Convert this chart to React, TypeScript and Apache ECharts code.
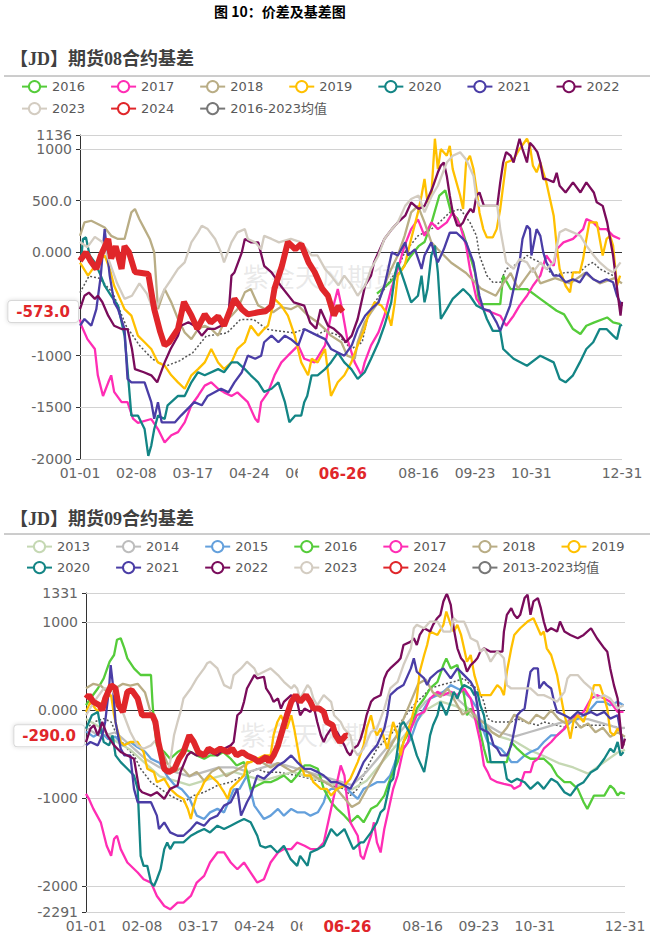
import React, { useEffect, useRef } from 'react';
import * as echarts from 'echarts';

// ---------- Panel 1: 08 contract basis, [day of year, value] ----------
const P1_2016 = [[200,-400],[208,-300],[215,-200],[222,-50],[228,60],[232,100],[237,300],[242,550],[246,600],[250,380],[254,330],[258,190],[264,-97],[266,-194],[269,-500],[283,-500],[285,-226],[290,-355],[301,-355],[310,-450],[321,-565],[326,-600],[332,-742],[337,-790],[341,-710],[346,-680],[355,-630],[359,-678],[364,-694]];
const P1_2017 = [[0,-650],[1,-710],[5,-840],[10,-935],[12,-1190],[15.5,-1390],[19,-1260],[21,-1190],[23,-1350],[28,-1450],[32,-1450],[35.7,-1610],[39,-1650],[48,-1613],[52.5,-1710],[57,-1840],[61.5,-1770],[66,-1740],[70.5,-1645],[75,-1480],[79.5,-1390],[84,-1290],[88.4,-1258],[93,-1320],[97,-1355],[102,-1390],[106,-1355],[113,-1450],[118,-1610],[120,-1645],[122,-1450],[126.6,-1355],[131,-1190],[135.6,-1065],[140,-1000],[147,-900],[151,-1030],[158,-1065],[165,-900],[169,-613],[173.6,-355],[176,-515],[180,-840],[185,-1065],[189.5,-1190],[191.7,-1065],[196,-900],[201,-775],[205,-613],[209.6,-355],[214,-160],[218.6,65],[223,225],[227.6,320],[232,160],[236.6,290],[241,225],[247,290],[251,387],[256,258],[260,65],[262.6,-160],[267,-450],[271.6,-550],[283,-613],[287,-710],[292,-613],[296,-515],[301,-420],[305,-323],[310,-225],[314,-30],[319,-130],[321,30],[325.6,97],[332,130],[338.8,225],[341,322],[345.6,290],[350,225],[354.6,225],[359,160],[363.7,130]];
const P1_2018 = [[0,160],[3,290],[7.6,306],[12,275],[16.6,240],[21,160],[25.6,130],[30,130],[34.6,387],[37,420],[40,320],[43.5,225],[47,130],[50,0],[52.5,-550],[57,-355],[61.5,-484],[66,-645],[70.5,-775],[75,-840],[79.5,-742],[84,-710],[88.4,-742],[93,-806],[97,-677],[102,-613],[106,-550],[111,-387],[115,-355],[120,-515],[125,-550],[130,-580],[135,-530],[142,-550],[147,-515],[153.6,-613],[160,-677],[165,-742],[169,-806],[176,-870],[180,-1000],[185,-1030],[187,-870],[191.7,-677],[196,-580],[201,-480],[205,-320],[209.6,-160],[214,-30],[218.6,160],[223,387],[227.6,450],[232,290],[236.6,97],[241,30],[250,-100],[260,-200],[270,-350],[280,-420],[285,-300],[290,-200],[295,-350],[300,-250],[305,-150],[310,-300],[320,-250],[330,-300],[340,-200],[350,-300],[360,-250],[365,-300]];
const P1_2019 = [[0,-100],[5.4,-225],[10,-130],[16.6,-30],[20,-160],[23,-323],[28,-484],[30,-550],[34.6,-613],[39,-806],[43.5,-870],[48,-935],[52.5,-1065],[57,-1097],[61.5,-1190],[66,-1258],[70.5,-1320],[75,-1190],[79.5,-1130],[84,-1065],[88.4,-935],[93,-1065],[97,-1130],[102,-1065],[106,-935],[111,-870],[115,-710],[120,-806],[124,-742],[126.6,-710],[131,-450],[135.6,-515],[140,-613],[144.6,-806],[149,-1065],[153.6,-1190],[156,-1030],[160,-1065],[165,-935],[167,-1160],[169,-1390],[173.6,-1258],[178,-1190],[182.7,-1065],[187,-900],[191.7,-742],[194,-613],[198.4,-484],[203,-515],[207.6,-613],[209.6,-710],[212,-484],[214,-225],[218.6,-130],[223,130],[227.6,387],[230,550],[232,710],[234,484],[236.6,550],[239,1100],[241,806],[243,1000],[247,935],[249,1030],[251,806],[256,550],[258,420],[260,870],[262.6,935],[265,806],[267,610],[269,387],[271.6,225],[274,145],[278,145],[280.6,225],[283,420],[285,645],[287,870],[292,900],[296,1000],[301,1100],[303,1030],[305,840],[307.5,775],[310,870],[314,680],[319,355],[321,65],[323,-160],[327,-323],[330,-387],[332,-194],[336.6,-194],[338.8,-65],[341,130],[343,290],[348,290],[350,130],[352,-30],[354.6,130],[357,160],[359,65],[361.6,-323],[363.7,-225]];
const P1_2020 = [[0,-60],[1,-30],[2,130],[4,145],[6.5,-30],[10,-97],[12,-160],[14,-225],[16.6,-323],[21,-420],[25.6,-515],[30,-806],[32,-1130],[34.6,-1580],[39,-1580],[43.5,-1710],[46,-1970],[48,-1870],[50,-1710],[52.5,-1580],[57,-1613],[59,-1480],[66,-1390],[70.5,-1390],[75,-1258],[79.5,-1160],[84,-1190],[93,-1130],[97,-1160],[102,-1065],[106,-1065],[111,-1130],[115,-1190],[120,-1258],[124,-1350],[129,-1320],[133.6,-1258],[138,-1450],[141,-1645],[145,-1580],[149,-1580],[151,-1450],[153,-1390],[156,-1190],[160,-1190],[165,-1130],[169,-1065],[173.6,-970],[178,-1065],[182.7,-1130],[187,-1225],[191.7,-1160],[196,-1030],[201,-870],[205,-710],[209.6,-484],[212,-225],[214,-97],[218.6,-290],[223,-484],[227.6,-420],[230,-225],[232,-484],[234,-355],[236.6,-30],[239,65],[241,-194],[243,-645],[247,-550],[251,-450],[258,-355],[262.6,-420],[267,-515],[271.6,-550],[274,-645],[278,-760],[283,-760],[285,-935],[292,-1030],[301,-1097],[310,-1000],[319,-1065],[323,-1225],[327,-1258],[332,-1190],[336.6,-1065],[341,-935],[345.6,-870],[350,-742],[354.6,-742],[359,-806],[361.6,-840],[363.7,-710],[365,-700]];
const P1_2021 = [[0,-710],[3,-645],[7.6,-710],[11,-550],[14,-225],[16.6,225],[20,-225],[23,-484],[25.6,-550],[30,-742],[32,-1225],[34.6,-1258],[43.5,-1258],[48,-1450],[50,-1610],[52.5,-1450],[55,-1645],[64,-1645],[68,-1580],[77,-1450],[82,-1480],[86,-1390],[95,-1320],[100,-1355],[104,-1258],[109,-1160],[113,-1000],[118,-1030],[122,-1000],[124,-870],[129,-806],[133.6,-870],[138,-806],[142,-840],[147,-900],[151,-742],[160,-806],[165,-840],[169,-935],[178,-1000],[183,-900],[187,-742],[192,-613],[196,-550],[201,-484],[205,-323],[207.6,-160],[210,0],[214,-30],[219,97],[221,-30],[225.6,30],[230,-160],[232,-30],[236.6,97],[239,-30],[241,-97],[245,30],[249,190],[253.6,190],[258,130],[260,97],[265,-97],[267,-260],[269,-420],[271.6,-550],[276,-565],[280.6,-680],[283,-760],[287,-613],[289.6,-515],[292,-355],[294,-225],[296,-97],[298,130],[301,258],[303,225],[304,-30],[307.5,225],[310,160],[312,0],[314,-97],[319,-225],[323,-225],[327,-290],[332,-260],[336.6,-290],[341,-194],[345.6,-260],[350,-290],[354.6,-260],[359,-290],[361.6,-420],[363.7,-484],[365,-520]];
const P1_2022 = [[0,-550],[3,-420],[6,-390],[10,-450],[12,-420],[15,-480],[19,-613],[23,-710],[28,-742],[32,-742],[35,-935],[37,-1130],[43,-1160],[48,-1190],[52,-1258],[57,-1065],[61,-935],[66,-806],[68,-710],[73,-677],[77,-710],[82,-806],[86,-740],[91,-740],[95,-710],[100,-613],[102,-225],[104,-194],[109,0],[111,130],[115,97],[120,97],[124,-130],[129,-194],[135,-320],[144,-484],[151,-515],[155,-680],[159,-740],[162,-550],[167,-710],[171,-740],[176,-806],[179,-870],[183,-806],[187,-645],[192,-320],[196,-225],[198,-97],[201,0],[205,130],[210,225],[214,290],[219,355],[223,484],[228,420],[232,450],[237,610],[241,775],[243,840],[245,870],[247,740],[249,550],[251,390],[254,258],[256,258],[258,290],[260,355],[263,420],[265,387],[267,550],[269,580],[272,450],[276,450],[281,450],[283,677],[285,870],[287,970],[290,935],[292,870],[296,1100],[298,1000],[301,870],[303,1060],[305,1030],[308,970],[310,870],[312,710],[314,710],[319,680],[321,770],[323,645],[327,580],[332,677],[337,580],[341,677],[346,580],[348,484],[352,450],[355,290],[357,130],[359,-30],[362,-390],[364,-613],[365,-480]];
const P1_2023 = [[0,100],[5,50],[10,150],[15,100],[20,-100],[25,-300],[30,-450],[35,-420],[40,-300],[45,-400],[50,-580],[57,-355],[61.5,-260],[66,-160],[70.5,-97],[75,97],[79.5,194],[82,258],[86,225],[91,130],[95,0],[97,-97],[102,97],[106,194],[111,225],[113,130],[118,97],[122,30],[124,160],[129,130],[134,97],[142,130],[149,97],[156,-30],[160,-30],[165,-160],[169,-225],[174,-320],[178,-225],[183,-320],[187,-420],[192,-320],[196,-160],[201,-30],[205,130],[210,225],[214,290],[219,450],[223,516],[228,550],[232,387],[237,550],[241,645],[247,870],[251,935],[256,968],[260,900],[265,740],[267,516],[269,450],[281,450],[283,225],[285,65],[287,-97],[292,-160],[296,-65],[301,-97],[305,-194],[310,-97],[314,-160],[319,-97],[323,194],[327,225],[332,194],[337,160],[341,65],[346,-30],[350,-97],[355,-160],[359,-194],[364,-97]];
const P1_2024 = [[0,-80],[4,0],[7,-80],[11,-160],[14,-30],[19,130],[21,-60],[24,60],[28,-160],[30,60],[33,0],[37,-190],[46,-210],[50,-550],[54,-770],[57,-900],[60,-870],[66,-740],[70,-480],[75,-610],[79,-740],[84,-600],[88,-680],[93,-620],[97,-710],[104,-450],[109,-550],[113,-600],[120,-580],[125,-570],[129,-520],[131,-350],[136,-130],[140,100],[145,30],[149,80],[154,-100],[158,-190],[163,-350],[167,-420],[171,-610],[174,-520],[177,-573]];
const P1_AVG = [[0,-390],[6,-230],[13,-250],[22,-390],[31,-710],[40,-900],[49,-1035],[58,-1100],[67,-1050],[76,-970],[85,-810],[99,-780],[108,-650],[117,-650],[126,-745],[144,-780],[151,-740],[159,-800],[165,-760],[173.6,-800],[182.7,-935],[190,-870],[194,-613],[198.4,-484],[205,-355],[214,-160],[218.6,0],[227.6,160],[236.6,225],[242,290],[249,387],[256,420],[262.6,290],[267,160],[269,-30],[274,-225],[278,-290],[283,-290],[287,-160],[292,-130],[296,-97],[301,-30],[305,-65],[310,-97],[319,-225],[327,-194],[336.6,-194],[341,-130],[345.6,-97],[350,-160],[359,-225],[363.7,-290]];

// ---------- Panel 2: 09 contract basis ----------
const P2_2013 = [[0,-100],[10,-200],[20,-350],[30,-450],[40,-600],[50,-750],[60,-800],[70,-850],[80,-800],[90,-750],[100,-700],[110,-750],[120,-800],[130,-750],[140,-700],[150,-750],[160,-800],[170,-850],[180,-900],[190,-800],[200,-600],[210,-400],[220,-200],[230,0],[240,100],[250,50],[260,-50],[270,-200],[280,-300],[290,-350],[300,-450],[310,-520],[320,-600],[330,-650],[340,-720],[350,-600],[360,-480],[365,-450]];
const P2_2014 = [[0,-200],[10,-300],[20,-250],[30,-400],[40,-550],[50,-650],[60,-700],[70,-750],[80,-700],[90,-650],[100,-650],[110,-700],[120,-650],[130,-600],[140,-650],[150,-700],[160,-750],[170,-800],[180,-850],[190,-700],[200,-500],[210,-300],[220,-100],[230,100],[240,200],[250,150],[260,0],[270,-150],[280,-250],[290,-300],[300,-250],[310,-200],[320,-150],[330,-100],[340,-100],[350,-150],[360,-200],[365,-200]];
const P2_2015 = [[0,-240],[5,-300],[10,-250],[15,-330],[20,-300],[25,-400],[30,-360],[35,-420],[40,-470],[44,-550],[50,-600],[55,-750],[60,-850],[65,-900],[70,-1000],[75,-1197],[80,-1235],[84,-1160],[89,-1120],[93.5,-1160],[100,-900],[104,-893],[109,-741],[114,-1083],[120.5,-1235],[125,-1197],[130,-1121],[134,-1197],[139,-1121],[143,-1159],[148,-1159],[152,-1197],[157,-1159],[161,-1045],[163,-931],[166,-893],[170,-893],[175,-855],[179,-931],[184,-1007],[188,-893],[193,-855],[197,-817],[202,-817],[206,-741],[211,-513],[215,-437],[220,-323],[224,-133],[229,19],[233,133],[238,171],[242,209],[247,285],[251.5,247],[256,209],[260.5,133],[265,19],[267,-133],[269.5,-247],[272,-361],[276,-399],[281,-437],[285,-513],[288,-589],[292,-589],[297,-513],[301,-475],[306,-437],[310,-361],[315,-285],[319,-285],[324,-209],[328,-133],[333,-95],[337,-57],[342,19],[346,95],[351,95],[355,57],[360,95],[364,57]];
const P2_2016 = [[0,57],[3,133],[8,247],[12,361],[16,551],[19,627],[21,800],[23.5,817],[26,703],[28,589],[32.5,475],[37,400],[41.5,400],[44,400],[45,95],[46,-133],[48,-400],[53,-475],[57,-551],[62,-475],[66,-437],[71,-475],[75,-513],[80,-551],[84,-513],[89,-513],[93,-475],[98,-551],[102,-627],[107,-589],[109,-700],[111.5,-893],[116,-855],[120.5,-817],[125,-817],[130,-779],[134,-741],[139,-817],[143,-741],[148,-627],[152,-627],[157,-665],[161,-893],[166,-1045],[170,-1120],[175,-1197],[179,-1273],[184,-1197],[188,-1273],[193,-1120],[197,-1083],[202,-969],[206,-779],[211,-589],[215,-361],[220,-209],[224,19],[229,133],[233,247],[238,323],[242,513],[244,589],[247,475],[251.5,513],[256,171],[258,-57],[260.5,19],[265,-133],[267,-247],[269.5,-437],[272,-589],[276,-589],[281,-589],[285,-589],[288,-361],[292,-437],[297,-513],[301,-551],[306,-551],[310,-551],[315,-627],[319,-741],[324,-817],[328,-817],[333,-893],[337,-1045],[339.5,-1120],[344,-969],[351,-969],[355,-855],[357.5,-893],[360,-969],[362,-931],[365,-950]];
const P2_2017 = [[0,-950],[2,-1007],[5,-1120],[10,-1273],[14,-1539],[17,-1653],[19,-1463],[21,-1425],[23.5,-1577],[28,-1729],[35,-1843],[39,-1919],[44,-1957],[48,-2109],[53,-2223],[57,-2261],[62,-2185],[66,-2185],[71,-2109],[75,-1957],[80,-1881],[84,-1729],[89,-1615],[93.5,-1615],[98,-1729],[102.5,-1805],[107,-1729],[111.5,-1843],[116,-1957],[120.5,-1919],[125,-1729],[130,-1615],[134,-1577],[139,-1577],[143,-1501],[148,-1539],[152,-1577],[157,-1577],[161,-1501],[166,-1120],[168,-969],[170,-817],[172.5,-627],[175,-741],[177,-1045],[179,-1273],[184,-1425],[186,-1653],[188,-1691],[190,-1577],[193,-1425],[195,-1273],[197,-1501],[199.5,-1615],[202,-1349],[204,-1197],[206,-1045],[208,-893],[211,-741],[213,-589],[215,-437],[218,-361],[220,-209],[224,-57],[229,-19],[233,133],[238,209],[242,171],[247,209],[251.5,171],[256,247],[260.5,133],[265,-209],[267,-361],[269.5,-627],[272,-703],[274,-779],[278.5,-817],[283,-836],[288,-855],[290,-893],[294,-855],[297,-703],[301,-703],[303,-589],[306,-551],[310,-437],[315,-361],[319,-285],[324,-209],[328,-95],[333,-57],[337,-19],[342,133],[346,171],[351,133],[355,95],[360,-19],[364,-19]];
const P2_2018 = [[0,250],[5,300],[10,280],[15,200],[20,250],[25,300],[30,280],[35,300],[40,200],[45,-100],[50,-400],[55,-600],[60,-700],[65,-650],[70,-750],[75,-700],[80,-800],[85,-700],[90,-650],[95,-750],[100,-700],[105,-650],[110,-600],[115,-550],[120,-600],[125,-650],[130,-600],[135,-650],[140,-700],[145,-650],[150,-700],[155,-750],[160,-800],[165,-850],[170,-900],[175,-1000],[180,-1100],[185,-1050],[190,-900],[195,-750],[200,-600],[205,-450],[210,-300],[215,-100],[220,100],[225,300],[230,350],[235,200],[240,150],[245,250],[250,100],[255,-50],[260,0],[265,-100],[270,-150],[275,-250],[280,-300],[285,-200],[290,-50],[295,-100],[300,-150],[305,-50],[310,-100],[315,0],[320,-100],[325,-150],[330,-100],[335,-200],[340,-150],[345,-250],[350,-200],[355,-300],[360,-250],[365,-300]];
const P2_2019 = [[0,-19],[3,95],[8,-19],[12,133],[17,171],[19,-57],[21,-209],[23.5,-361],[26,-399],[30,-361],[35,-361],[39,-475],[41.5,-665],[46,-703],[48,-817],[53,-779],[57,-893],[62,-969],[66,-1007],[69,-1121],[71,-1235],[73,-1083],[75,-969],[78,-893],[80,-817],[84,-741],[89,-817],[93.5,-931],[96,-1007],[98,-893],[102.5,-817],[107,-741],[109,-589],[111.5,-589],[116,-551],[120.5,-513],[125,-513],[127,-285],[129.6,-133],[132,-57],[134,-133],[136,-209],[139,-57],[141,-209],[143,-399],[145,-589],[148,-741],[152,-741],[154,-817],[159,-893],[163,-893],[166,-969],[170,-893],[175,-855],[179,-779],[184,-589],[188,-399],[190,-209],[193,-57],[195,-209],[197,-285],[199.5,-209],[202,-323],[204,-437],[206,-285],[208,-133],[211,-285],[213,-513],[215,-361],[220,-133],[224,133],[226,437],[229,627],[231,741],[233,893],[238,855],[242,969],[244,1121],[247,969],[249,893],[251.5,969],[254,855],[256,703],[258,551],[260.5,627],[263,399],[265,285],[267,171],[270,171],[274,171],[278.5,285],[281,247],[283,171],[285,437],[288,703],[290,855],[294,931],[299,1007],[303,1045],[306,931],[308,855],[310,893],[312,703],[315,627],[319,399],[321,209],[324,-57],[326,-171],[328,-323],[330,-133],[333,-57],[337,-133],[342,133],[344,285],[348,285],[351,133],[353,19],[355,-247],[357.5,-285],[360,-209],[362,-247],[364,-400]];
const P2_2020 = [[0,-209],[2,-133],[4,-57],[8,-19],[10,-209],[12,-361],[15.6,-399],[18,-285],[20,-513],[23.5,-589],[28,-665],[32.5,-741],[35,-893],[37,-1653],[39,-1767],[41.5,-1767],[44,-1957],[46,-1995],[48,-1919],[50.5,-1805],[53,-1577],[55,-1501],[57,-1577],[59.6,-1501],[62,-1501],[66,-1501],[71,-1425],[75,-1387],[80,-1349],[84,-1387],[89,-1311],[93.5,-1349],[98,-1311],[102.5,-1273],[107,-1235],[111.5,-1273],[116,-1425],[118,-1539],[121.5,-1560],[125,-1539],[129.6,-1615],[134,-1539],[138.6,-1691],[143,-1767],[145,-1653],[150,-1767],[152,-1615],[157,-1577],[161,-1539],[166,-1349],[170,-1425],[175,-1349],[179,-1501],[181,-1577],[186,-1501],[188,-1501],[193,-1387],[197,-1273],[199.5,-1159],[202,-1121],[204,-969],[206,-817],[208,-779],[211,-437],[213,-171],[215,-133],[217.6,-209],[220,-285],[224,-513],[226,-589],[229,-703],[231,-513],[233,-285],[235,-171],[238,-57],[240,95],[242,19],[244,-57],[247,95],[249,209],[251.5,133],[254,247],[256,285],[260.5,247],[263,171],[265,209],[267,57],[269.5,-57],[272,-323],[274,-589],[283,-589],[285,-779],[288,-817],[292,-779],[297,-817],[301,-893],[306,-817],[310,-893],[315,-779],[319,-817],[324,-931],[328,-969],[333,-855],[337,-817],[342,-703],[346,-665],[351,-551],[355,-437],[357.5,-475],[360,-361],[362,-513],[364,-475]];
const P2_2021 = [[0,-400],[3,-361],[8,-399],[11,-285],[13,-133],[15.6,247],[16.7,513],[18,323],[20,-133],[23.5,-437],[26,-513],[30,-513],[32.5,-893],[35,-1045],[44,-1045],[48,-1197],[49.4,-1349],[53,-1273],[57,-1387],[62,-1425],[66,-1425],[71,-1349],[75,-1273],[80,-1311],[84,-1235],[89,-1197],[93.5,-1083],[98,-1045],[102.5,-893],[105,-1197],[109,-1045],[111.5,-969],[116,-741],[120.5,-779],[125,-703],[130,-627],[134,-589],[139,-513],[143,-589],[148,-665],[152,-665],[157,-703],[161,-741],[166,-817],[170,-817],[175,-855],[179,-893],[184,-741],[188,-589],[193,-475],[197,-399],[202,-209],[204,-57],[206,171],[211,247],[215,285],[220,475],[222,589],[224,437],[229,361],[231,285],[233,361],[238,437],[242,475],[247,361],[251.5,475],[256,399],[260.5,323],[263,247],[265,57],[267,-209],[272,-247],[274,-285],[276,-399],[278.5,-437],[281,-513],[285,-513],[288,-399],[292,-57],[294,-19],[297,19],[299,247],[301,437],[303,475],[306,475],[307,247],[310,323],[312,285],[315,247],[317,95],[319,-19],[324,-57],[328,-95],[333,-19],[337,-57],[342,-19],[346,-57],[351,-19],[355,-95],[360,-57],[362,-247],[364,-400]];
const P2_2022 = [[0,-361],[3,-209],[5.4,-171],[8,-285],[11,-133],[14.4,-285],[19,-399],[23.5,-475],[28,-513],[32.5,-551],[36,-893],[38,-931],[44,-969],[48,-931],[53,-1007],[57,-893],[62,-855],[64,-703],[68.6,-513],[71,-475],[75,-513],[80,-513],[84,-475],[89,-513],[93.5,-437],[98,-399],[100,-361],[102.5,-57],[105,-19],[107,95],[109,247],[111.5,323],[114,399],[116,361],[120.5,380],[122,247],[125,171],[127,95],[130,133],[132,19],[134,95],[139,171],[143,95],[145,-57],[148,19],[152,-19],[154,57],[156.6,-133],[159,-285],[161,-361],[163,-285],[166,-209],[170,-247],[175,-399],[177,-475],[179,-513],[181,-437],[184,-399],[186,-323],[188,-209],[190,-57],[193,95],[195,133],[199.5,171],[202,361],[204,437],[206,475],[211,551],[213,589],[215,741],[220,779],[222,817],[224,741],[226,855],[229,931],[233,893],[235,969],[237.8,1045],[240,1083],[242,1235],[244,1311],[244.7,1311],[247,1197],[249,931],[251.5,703],[254,589],[256,551],[258,437],[260.5,513],[263,551],[265,589],[267,665],[269.5,703],[274,665],[278.5,665],[282,665],[283,893],[285,1083],[288,1159],[290,1083],[292,1045],[294,1083],[297,1273],[299,1311],[301,1083],[303,1235],[306,1273],[308,1159],[310,1007],[312,893],[315,931],[319,893],[321,1007],[324,893],[328,855],[333,817],[337,855],[342,931],[346,817],[351,703],[353,665],[355,475],[357.5,285],[360,133],[362,-209],[363,-437],[365,-323]];
const P2_2023 = [[0,-57],[5.4,95],[12,247],[17,247],[21,133],[25.7,-57],[30,-247],[34.8,-399],[39,-437],[44,-399],[48,-323],[53,-589],[55,-703],[57,-589],[59.6,-285],[62,-133],[64,-19],[66,133],[71,247],[75,361],[80,475],[82,532],[84,551],[89,475],[93.5,285],[98,247],[100,399],[105,475],[109,551],[114,475],[116,399],[120.5,437],[125,475],[130,399],[134,323],[139,247],[141,285],[143,247],[145,133],[150,285],[152,247],[154,133],[156.6,57],[161,171],[166,95],[168,-57],[172.5,-133],[174.7,-209],[179,-285],[181,-437],[184,-513],[188,-437],[193,-247],[197,-209],[202,19],[204,133],[206,247],[211,323],[215,513],[220,703],[222,931],[224,969],[229,931],[233,1007],[238,1007],[242,893],[247,893],[249,1045],[251.5,1007],[256,1007],[258,931],[260.5,817],[265,779],[267,665],[269.5,703],[272,627],[274,551],[278.5,665],[281,627],[283,589],[285,285],[288,247],[297,247],[301,247],[306,171],[310,171],[315,133],[319,95],[324,209],[326,361],[328,399],[333,399],[337,323],[342,247],[346,133],[351,171],[355,133],[360,19],[364,57]];
const P2_2024 = [[0,133],[2,171],[5,95],[9,57],[11,0],[13,133],[17,285],[20,247],[22,57],[25,-19],[28,209],[31,228],[35,133],[38,-57],[45,-57],[47,-133],[49,-361],[53,-665],[56,-703],[60,-665],[63,-551],[66,-475],[70,-285],[73,-361],[76,-475],[80,-513],[83,-437],[87,-475],[91,-437],[96,-475],[99,-437],[102,-513],[106,-475],[109,-513],[114,-551],[117,-589],[122,-532],[124,-589],[127,-513],[130,-400],[132,-285],[134,-170],[136,-57],[139,95],[142,171],[145,95],[149,171],[152,95],[154,19],[158,19],[161,-19],[163,-133],[167,-170],[169,-285],[172,-361],[176,-285],[177,-290]];
const P2_AVG = [[0,-209],[5.4,-133],[12,-95],[17,-133],[21,-285],[28,-437],[32.5,-513],[37,-665],[44,-817],[50.5,-893],[57,-969],[66,-1045],[73,-969],[80,-931],[89,-855],[98,-817],[107,-741],[116,-665],[121.5,-703],[130,-703],[143,-741],[152,-779],[161,-817],[166,-855],[175,-893],[179,-969],[184,-893],[188,-741],[190,-665],[197,-437],[206,-285],[215,-95],[220,19],[224,95],[229,171],[233,247],[240,285],[249,323],[256,361],[260.5,285],[265,247],[269.5,95],[272,-95],[276,-133],[288,-133],[292,-95],[297,-133],[306,-171],[310,-133],[319,-171],[328,-209],[337,-171],[346,-171],[355,-171],[364,-209]];

// ---------- axes / labels ----------
const X_TICKS = [0, 38, 76, 114, 152, 228, 266, 304, 365];
const CURRENT_DAY = 177;
const CURRENT_LABEL = '06-26';
const Y1_TICKS = [-2000, -1500, -1000, 0, 500, 1000, 1136];
const Y1_LABELS = ['-2000', '-1500', '-1000', '0.000', '500.0', '1000', '1136'];
const Y1_GRID = [-2000, -1500, -1000, -500, 500, 1000, 1136];
const Y1_LAST = -573;
const Y1_LAST_LABEL = '-573.0';
const Y2_TICKS = [-2291, -2000, -1000, 0, 1000, 1331];
const Y2_LABELS = ['-2291', '-2000', '-1000', '0.000', '1000', '1331'];
const Y2_GRID = [-2291, -2000, -1000, 1000, 1331];
const Y2_LAST = -290;
const Y2_LAST_LABEL = '-290.0';

const COLORS: Record<string, string> = {
  '2013': '#c5d8b3', '2014': '#bdbdbd', '2015': '#64a0dc', '2016': '#55cc3a',
  '2017': '#ff2db4', '2018': '#b9ad85', '2019': '#ffc000', '2020': '#138585',
  '2021': '#4a3da6', '2022': '#7a0c5b', '2023': '#d3ccc1', '2024': '#e0262a',
  avg: '#666666',
};

const FONT = 'DejaVu Sans, Noto Sans CJK SC, sans-serif';

function fmtDay(d: number) {
  const dt = new Date(2024, 0, 1 + Math.round(d));
  const m = String(dt.getMonth() + 1).padStart(2, '0');
  const dd = String(dt.getDate()).padStart(2, '0');
  return m + '-' + dd;
}

export default function App() {
  const ref = useRef<HTMLDivElement>(null);
  useEffect(() => {
    if (!ref.current) return;
    const chart = echarts.init(ref.current, undefined, { renderer: 'svg' });

    const line = (name: string, data: number[][], idx: number, extra: any = {}) => ({
      type: 'line', name, data, xAxisIndex: idx, yAxisIndex: idx,
      symbol: 'emptyCircle', symbolSize: 5, showSymbol: false, silent: true,
      lineStyle: { width: 2.3, color: COLORS[name] || COLORS.avg },
      itemStyle: { color: COLORS[name] || COLORS.avg },
      z: 3, ...extra,
    });

    const gridLines = (vals: number[]) => ({
      silent: true, symbol: ['none', 'none'], label: { show: false }, z: 1,
      data: [
        ...vals.map((v) => ({ yAxis: v, lineStyle: { color: '#d2d2d2', width: 1, type: 'solid' } })),
        { yAxis: 0, lineStyle: { color: '#333', width: 1, type: 'solid' } },
      ],
    });

    const xAxis = (idx: number) => ({
      type: 'value', gridIndex: idx, min: 0, max: 365,
      axisLine: { show: false }, axisTick: { show: false }, splitLine: { show: false },
      axisLabel: {
        customValues: X_TICKS, formatter: (v: number) => fmtDay(v),
        fontFamily: FONT, fontSize: 14, color: '#666', margin: 7,
      },
      axisPointer: {
        show: true, type: 'line', value: CURRENT_DAY, status: 'show', triggerTooltip: false,
        lineStyle: { color: 'rgba(0,0,0,0)' },
        label: {
          show: true, formatter: () => CURRENT_LABEL, color: '#e0262a', fontWeight: 'bold',
          fontSize: 15, fontFamily: FONT, backgroundColor: '#fff', padding: [2, 21, 2, 21], margin: 5,
        },
      },
    });

    const yAxis = (idx: number, min: number, max: number, ticks: number[], labels: string[], last: number, lastLabel: string) => ({
      type: 'value', gridIndex: idx, min, max,
      axisLine: { show: true, lineStyle: { color: '#333', width: 1 } },
      axisTick: { show: true, customValues: ticks, length: 4, lineStyle: { color: '#333' } },
      splitLine: { show: false },
      axisLabel: {
        customValues: ticks, showMinLabel: true, showMaxLabel: true,
        formatter: (v: number) => { const i = ticks.indexOf(v); return i >= 0 ? labels[i] : ''; },
        fontFamily: FONT, fontSize: 14, color: '#666', margin: 8,
      },
      axisPointer: {
        show: true, type: 'line', value: last, status: 'show', triggerTooltip: false,
        lineStyle: { color: 'rgba(0,0,0,0)' },
        label: {
          show: true, formatter: () => lastLabel, color: '#e0262a', fontWeight: 'bold',
          fontSize: 15, fontFamily: FONT, backgroundColor: '#fff', padding: [3, 8, 3, 8],
          borderColor: '#d8d8d8', borderWidth: 1, shadowBlur: 4, shadowColor: 'rgba(0,0,0,0.15)', margin: 2,
        },
      },
    });

    const legendStyle = {
      itemWidth: 25, itemHeight: 14, itemGap: 25, selectedMode: false,
      textStyle: { fontFamily: FONT, fontSize: 13, color: '#595959' },
    };

    const p1Years: [string, number[][]][] = [
      ['2016', P1_2016], ['2017', P1_2017], ['2018', P1_2018], ['2019', P1_2019],
      ['2020', P1_2020], ['2021', P1_2021], ['2022', P1_2022], ['2023', P1_2023],
    ];
    const p2Years: [string, number[][]][] = [
      ['2013', P2_2013], ['2014', P2_2014], ['2015', P2_2015], ['2016', P2_2016],
      ['2017', P2_2017], ['2018', P2_2018], ['2019', P2_2019], ['2020', P2_2020],
      ['2021', P2_2021], ['2022', P2_2022], ['2023', P2_2023],
    ];

    const series: any[] = [
      line('2016-2023均值', P1_AVG, 0, {
        lineStyle: { width: 1.5, color: '#555', type: [2, 2] }, itemStyle: { color: '#777' },
        markLine: gridLines(Y1_GRID), z: 3,
      }),
      ...p1Years.map(([n, d]) => line(n, d, 0)),
      line('2024', P1_2024, 0, { lineStyle: { width: 6, color: COLORS['2024'] }, z: 5 }),
      line('2013-2023均值', P2_AVG, 1, {
        lineStyle: { width: 1.5, color: '#555', type: [2, 2] }, itemStyle: { color: '#777' },
        markLine: gridLines(Y2_GRID), z: 3,
      }),
      ...p2Years.map(([n, d]) => line(n, d, 1)),
      line('2024', P2_2024, 1, { lineStyle: { width: 6, color: COLORS['2024'] }, z: 5 }),
    ];

    const avgItem = (name: string) => ({ name, lineStyle: { type: 'solid', width: 2, color: '#777' } });

    chart.setOption({
      animation: false,
      axisPointer: { triggerOn: 'none' },
      title: [
        { text: '图 10：价差及基差图', left: 214, top: 4, padding: 0,
          textStyle: { fontFamily: 'Noto Sans CJK SC', fontSize: 14, fontWeight: 'bold', color: '#000' } },
        { text: '【JD】期货08合约基差', left: 10, top: 50, padding: 0,
          textStyle: { fontFamily: 'Liberation Serif, Noto Sans CJK SC', fontSize: 18, fontWeight: 'bold', color: '#404040' } },
        { text: '【JD】期货09合约基差', left: 10, top: 510, padding: 0,
          textStyle: { fontFamily: 'Liberation Serif, Noto Sans CJK SC', fontSize: 18, fontWeight: 'bold', color: '#404040' } },
      ],
      legend: [
        { ...legendStyle, left: 16, top: 75, data: ['2016', '2017', '2018', '2019', '2020', '2021', '2022'] },
        { ...legendStyle, left: 16, top: 97, data: ['2023', '2024', avgItem('2016-2023均值')] },
        { ...legendStyle, left: 21, top: 535, data: ['2013', '2014', '2015', '2016', '2017', '2018', '2019'] },
        { ...legendStyle, left: 21, top: 556, data: ['2020', '2021', '2022', '2023', '2024', avgItem('2013-2023均值')] },
      ],
      grid: [
        { left: 80, top: 135, width: 542, height: 324 },
        { left: 86, top: 593, width: 539, height: 319 },
      ],
      xAxis: [xAxis(0), xAxis(1)],
      yAxis: [
        yAxis(0, -2000, 1136, Y1_TICKS, Y1_LABELS, Y1_LAST, Y1_LAST_LABEL),
        yAxis(1, -2291, 1331, Y2_TICKS, Y2_LABELS, Y2_LAST, Y2_LAST_LABEL),
      ],
      graphic: [
        { type: 'line', silent: true, shape: { x1: 4, y1: 76, x2: 650, y2: 76 }, style: { stroke: '#9a9a9a', lineWidth: 1 } },
        { type: 'line', silent: true, shape: { x1: 4, y1: 534, x2: 650, y2: 534 }, style: { stroke: '#9a9a9a', lineWidth: 1 } },
        { type: 'text', silent: true, left: 243, top: 262, z: 0,
          style: { text: '紫金天风期货', fontSize: 26, fontFamily: 'Noto Sans CJK SC', fill: 'rgba(170,170,170,0.25)' } },
        { type: 'text', silent: true, left: 240, top: 720, z: 0,
          style: { text: '紫金天风期货', fontSize: 26, fontFamily: 'Noto Sans CJK SC', fill: 'rgba(170,170,170,0.25)' } },
      ],
      series,
    });
    return () => chart.dispose();
  }, []);
  return <div ref={ref} style={{ position: 'absolute', left: 0, top: 0, width: 670, height: 952 }} />;
}
